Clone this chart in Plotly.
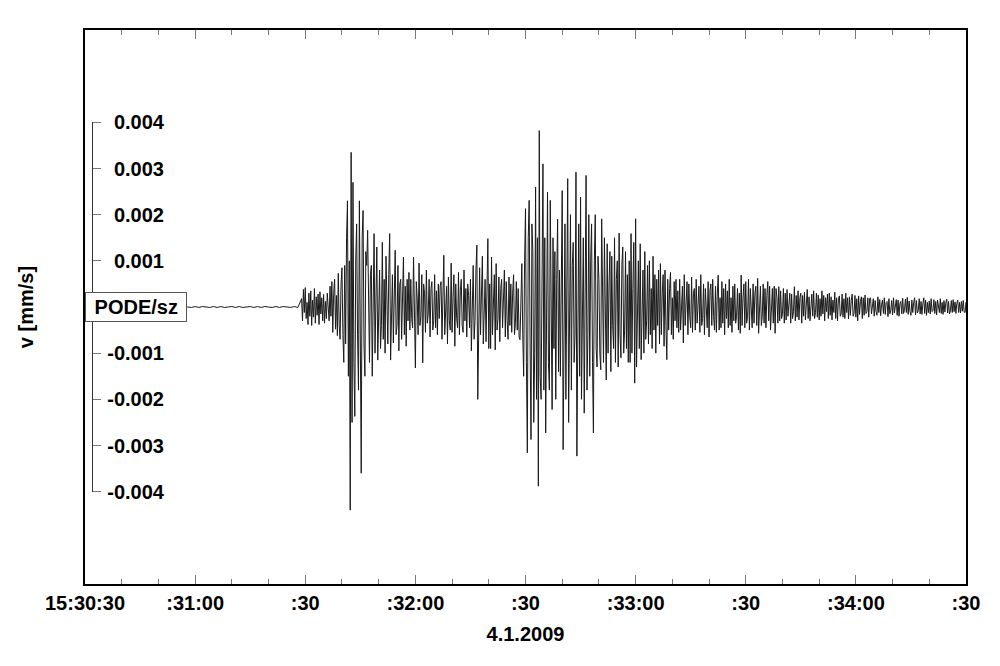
import plotly.graph_objects as go

# ---------------- data (velocity in units of 1e-5 mm/s) ----------------
t_start_pre = 0.0      # seconds after 15:30:30
dt_pre = 1.0
pre_event = [1, -1, 1, 0, -1, 1, -1, 0, 1, -1, 1, -1, 0, 1, -1, 1, 0, -1, 1, -1,
             1, -1, 0, 1, -1, 1, -1, 1, 0, -1, 1, -1, 1, 0, -1, 1, -1, 1, -1, 0,
             1, -1, 1, -1, 0, 1, -1, 1, -1, 1, 0, -1, 1, -1, 1, 0, -1, 1, -1]

t_onset = 59.0
dt_ev = 0.25
p_phase = [18, -30, 38, -12, 42, -25, 10, -38, 30, -20, 35, -40, 15, -22, 40, -35, 22, -18, 28, -38,
           33, -15, 20, -30, 27, -35, 12, -25, 30, -20,
           -30, 45, -20, 55, -55, 30, 60, -48, 25, -62, 73, -40, -70, 50, 85, -60,
           -120, 90, -80, 150, 230, -150, 100, -440, 335, -250,
           270, -120, -237, 100, 180, -60, -180, 230, -100, -360, 150, 209, -80, -150, 120, 90,
           166, -60, -120, 70, 90, -150, 40, 159, -100, 60, 130, -115, 50, 80, -90, -40, 140, -70,
           60, -100, 110, -50, -80, 70,
           159, -115, 40, 70, -78, 30, 123, -60, -40, 90, -95, 50, 60, -70, 20, 108, -60, 45, -85, 60,
           -30, 75]
mid_phase = [-50, 60, -25, -45, 108, -60, -132, 55, 20, -60, 95, -40, -20, 70, -121, 50, 30, -55, 80, -35,
             -15, 60, -65, 40, 55, -50, -30, 70, -45, 35, -60, 50, -25, 45,
             55, -70, 30, 112, -60, -20, 45, -80, 65, -30, -50, 95, -55, 20, 70, -85, 50, -25, -45, 75,
             -60, 35, 60, -40, -55, 80, -30, 40, -65, 50, 25, -45,
             60, -95, 40, 90, -70, -30, 80, 134, -200, -40, 85, -60, 30, 110, -80, -20, 60, -75, 40, 148,
             -90, 50,
             -90, 108, -60, 30, 70, -93, 94, -50, -25, 65, -75, 40, 60, -45, 20, 80, -65, 55, -30, -70,
             65, -40, 50, -55, 30, 70, -60, -35, 55, -50, 40, -65]
s_phase = [-71, 40, 94, -60, -150, 100, 213, -120, -316, 150, 231, -80, -287, 180, 120, -250, -100, 260,
           -200, 150, -388, 382, -150, -200, 100, 310, -180, 150,
           -273, 100, 249, -120, -180, 231, -60, -222, 150, -90, 120, -200, 60, 190, -140, 80,
           -150, 100, 252, -309, -100, 180, -200, 120, 278, -250, -60, 200, -180, 90, 140, -120, -60,
           292, -323, 100, 180, -150,
           238, -200, 60, 150, -230, 80, 285, -180, -60, 200, -150, 100, 180, -120, -273, 100, 200, -90,
           -130, 110, 60, -100,
           -136, 191, -60, -120, 150, 40, -158, 137, -100, 50, 120, -140, 110, -40, -90, 150, -120, 60,
           100, -130, 160, -60, -110, 90, 130, -100, -50, 120, -90, 70, -120, 100,
           -120, 159, -100, 40, 140, -165, 191, -130, 60, 100, -90, 137, -114, 30, 80, -100, 120, -70,
           -30, 90, -80, 100, -60, 40, -90, 110, -50, 70, -100, 60, -40, 80,
           -80, 94, -60, 30, 70, -85, 80, -40, -114, 60, -50, 40, 75, -60, 20, -70, 55, -30, 60, -45,
           35, -55]
coda = [60, -50, 20, 45, -78, 70, -40, 25, 55, -60, 50, -20, -45, 65, -55, 30, 40, -50, 60, -35,
        15, 45, -55, 70, -40, -25, 50, -60, 40, -30, -45, 55, -65, 35, 50, -40, 60, -20, -50, 45,
        -55, 30, 69, -50, 20, -45, 55, -35, 40, -60, 50, -25, 35, -45, 60, -40, 20, -55, 45, -30,
        50, -35, -20, 40, -50, 30,
        -57, 69, -40, 20, 50, -45, 55, -35, -20, 60, -50, 40, -25, -45, 50, -35, 30, 45, -40, 62,
        -57, 25, 45, -40, -20, 50, -35, 40, -45, 25, 55, -30, 45, -50, -15, 40, -35, 45, -57, 40,
        20, -35, 44, -30, 35, -25, -15, 40, -35, 30, -28, 38, -20, 15, 30, -35, 28, -25, -10, 44,
        -30, 25, -22, 35, -28, 20,
        30, -35, 25, -20, 32, -28, 15, 38, -25, 22, -30, 10, 28, -20, 35, -25, -12, 30, -22, 26,
        -28, 18, -20, 35, -15, 25, -30, 20, -10, 28, -25, 30, -18, 22, -28, 15, -12, 32, -25, 20,
        -30, 18, 24, -20, -15, 28, -22, 18, -25, 30, -12, 20, -26, 22, -18, 15, 28, -20, -14, 25,
        -22, 18, -30, 24, -16, 12, 22, -25, 20, -18, 26, -14, -10, 20, -22, 18,
        20, -15, 8, 18, -20, 14, -10, -18, 22, -12, 16, -19, 6, 15, -14, 20, -16, 10, 12, -21,
        18, -15, -8, 14, -17, 20, -13, 9, 16, -18, 15, -20, 8, 12, -15, 19, -14, -6, 17, -12,
        21, -16, 13, -10, -18, 15, -12, 10, 20, -17, 14, -13, -8, 18, -15, 12, -16, 7, 20, -14,
        15, -18, 10, -12, 13, -15, 18, -10, -8, 16, -14, 12, -17, 15, -6, -12, 18, -14, 10, -16,
        14, -11, 9, 17, -13, 12, -15, -8, 14, -12, 16, -10, 11, -14, 8, 15, -12, 10, -13, 12,
        -9, 14, -11, -12, 10, -9, 13]
unit = 1e-5

tick_seconds = [0, 30, 60, 90, 120, 150, 180, 210, 240]
tick_text = ["15:30:30", ":31:00", ":30", ":32:00", ":30", ":33:00", ":30", ":34:00", ":30"]
y_ticks = [0.004, 0.003, 0.002, 0.001, -0.001, -0.002, -0.003, -0.004]
y_tick_text = ["0.004", "0.003", "0.002", "0.001", "-0.001", "-0.002", "-0.003", "-0.004"]
station = "PODE/sz"
date_label = "4.1.2009"
y_title = "v [mm/s]"

# ---------------- build trace ----------------
xs, ys = [], []
for i, v in enumerate(pre_event):
    xs.append(t_start_pre + i * dt_pre)
    ys.append(v * unit)
event = p_phase + mid_phase + s_phase + coda
for i, v in enumerate(event):
    xs.append(t_onset + i * dt_ev)
    ys.append(v * unit)

FONT = "Liberation Sans, Arial, sans-serif"
fig = go.Figure()
fig.add_trace(go.Scatter(x=xs, y=ys, mode="lines",
                         line=dict(color="#1a1a1a", width=1), hoverinfo="skip",
                         showlegend=False))
# helper (invisible) traces so that the bracket axes are drawn
fig.add_trace(go.Scatter(x=[0, 0], y=[-0.004, 0.004], yaxis="y2", mode="markers",
                         marker=dict(opacity=0), hoverinfo="skip", showlegend=False))
fig.add_trace(go.Scatter(x=[0, 0], y=[-0.004, 0.004], yaxis="y3", mode="markers",
                         marker=dict(opacity=0), hoverinfo="skip", showlegend=False))

yr = 0.006
d0 = (-0.004 + yr) / (2 * yr)
d1 = (0.004 + yr) / (2 * yr)

fig.update_layout(
    width=992, height=650,
    margin=dict(l=77, r=34, t=22, b=74),
    paper_bgcolor="white", plot_bgcolor="rgba(0,0,0,0)",
    font=dict(family=FONT, size=20, color="black"),
    xaxis=dict(range=[0, 240], tickmode="array", tickvals=tick_seconds, ticktext=tick_text,
               ticks="inside", ticklen=9, tickcolor="#777", tickwidth=1,
               minor=dict(dtick=10, ticks="inside", ticklen=5, tickcolor="#777", tickwidth=1),
               showline=True, linecolor="black", linewidth=1.5, mirror="ticks",
               showgrid=False, zeroline=False,
               tickfont=dict(family=FONT, size=20, color="black", weight="bold"),
               title=dict(text="<b>%s</b>" % date_label, standoff=14,
                          font=dict(family=FONT, size=20, color="black"))),
    yaxis=dict(range=[-yr, yr], showline=True, linecolor="black", linewidth=1.5, mirror=True,
               ticks="", showticklabels=False, showgrid=False, zeroline=False,
               title=dict(text="<b>%s</b>" % y_title, standoff=44,
                          font=dict(family=FONT, size=20, color="black"))),
    yaxis2=dict(domain=[d0, d1], range=[-0.004, 0.004], anchor="free",
                position=7 / 881, side="right",
                tickmode="array", tickvals=[0.004, 0.003, 0.002, 0.001, 0, -0.001, -0.002, -0.003, -0.004],
                ticks="outside", ticklen=8, tickcolor="#777", tickwidth=1,
                showticklabels=False, showline=True, linecolor="#333", linewidth=1,
                showgrid=False, zeroline=False),
    yaxis3=dict(overlaying="y2", range=[-0.004, 0.004], anchor="free",
                position=79 / 881, side="left",
                tickmode="array", tickvals=y_ticks, ticktext=y_tick_text,
                ticks="", showline=False, showgrid=False, zeroline=False,
                tickfont=dict(family=FONT, size=20, color="black", weight="bold")),
)

fig.add_annotation(xref="paper", yref="y", x=0, y=0, xanchor="left", yanchor="middle",
                   text="&nbsp;<b>%s</b>&nbsp;" % station, showarrow=False,
                   font=dict(family=FONT, size=20, color="black"),
                   bgcolor="white", bordercolor="#555", borderwidth=1, borderpad=3)

fig.write_html("out.html")
